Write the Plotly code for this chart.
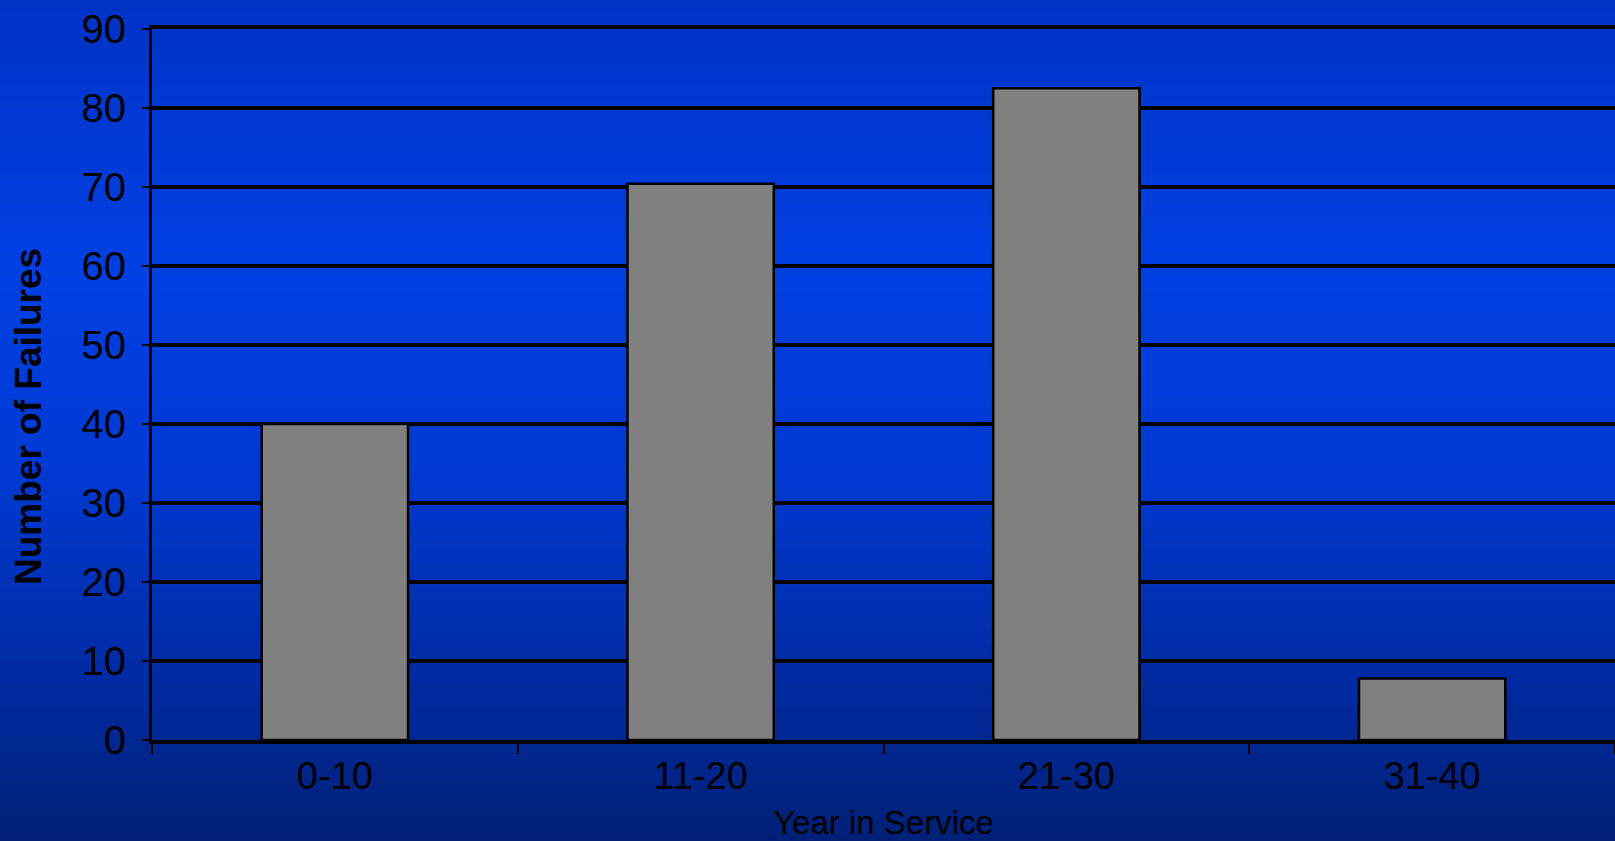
import plotly.graph_objects as go

categories = ["0-10", "11-20", "21-30", "31-40"]
failures = [40, 70.4, 82.5, 7.8]
y_ticks = [0, 10, 20, 30, 40, 50, 60, 70, 80, 90]

W, H = 1615, 841
ML, MR, MT, MB = 152, 0, 29, 101
FONT = "Liberation Sans, Arial, sans-serif"

fig = go.Figure()
fig.add_trace(go.Bar(
    x=categories, y=failures,
    marker=dict(color="#808080", line=dict(color="#000000", width=2.5)),
    width=0.4,
))

# vertical background gradient (figure pixel row -> colour)
stops = [(0, (0, 50, 196)), (260, (0, 64, 226)), (460, (0, 58, 212)),
         (650, (0, 44, 168)), (841, (0, 32, 118))]

def col_at(p):
    for (p0, c0), (p1, c1) in zip(stops[:-1], stops[1:]):
        if p0 <= p <= p1:
            t = (p - p0) / (p1 - p0)
            return "rgb(%d,%d,%d)" % tuple(round(a + (b - a) * t) for a, b in zip(c0, c1))
    return "rgb(%d,%d,%d)" % stops[-1][1]

ph = H - MT - MB
pw = W - ML - MR
shapes = []
step = 6
for p in range(0, H, step):
    y1 = (H - MB - p) / ph
    y0 = (H - MB - (p + step + 1)) / ph
    shapes.append(dict(type="rect", xref="paper", yref="paper",
                       x0=-ML / pw - 0.01, x1=1.01, y0=y0, y1=y1,
                       fillcolor=col_at(p + step / 2), line=dict(width=0),
                       layer="below"))

fig.update_layout(
    width=W, height=H,
    margin=dict(l=ML, r=MR, t=MT, b=MB, pad=0),
    paper_bgcolor="#0030b0",
    plot_bgcolor="rgba(0,0,0,0)",
    shapes=shapes,
    showlegend=False,
    bargap=0.6,
    font=dict(family=FONT, color="#000000", size=38),
    xaxis=dict(
        type="category", range=[-0.5, 3.5],
        showgrid=False, showline=True, linecolor="#000000", linewidth=3.5,
        mirror=True,
        ticks="outside", tickson="boundaries", ticklen=10, tickwidth=2,
        tickcolor="#000000",
        tickfont=dict(family=FONT, size=38, color="#000000"),
        title=dict(text="Year in Service", standoff=16,
                   font=dict(family=FONT, size=33, color="#000000")),
    ),
    yaxis=dict(
        range=[0, 90], tickvals=y_ticks,
        showgrid=True, gridcolor="#000000", gridwidth=3.5,
        showline=True, linecolor="#000000", linewidth=3,
        ticks="outside", ticklen=7, tickwidth=2, tickcolor="#000000",
        ticklabelstandoff=8,
        zeroline=False,
        tickfont=dict(family=FONT, size=40, color="#000000"),
    ),
    annotations=[dict(
        text="<b>Number of Failures</b>", textangle=-90,
        xref="paper", yref="paper", x=-124 / pw, y=(H - MB - 417) / ph,
        xanchor="center", yanchor="middle", showarrow=False,
        font=dict(family=FONT, size=37, color="#000000"),
    )],
)

fig.write_html("out.html")
